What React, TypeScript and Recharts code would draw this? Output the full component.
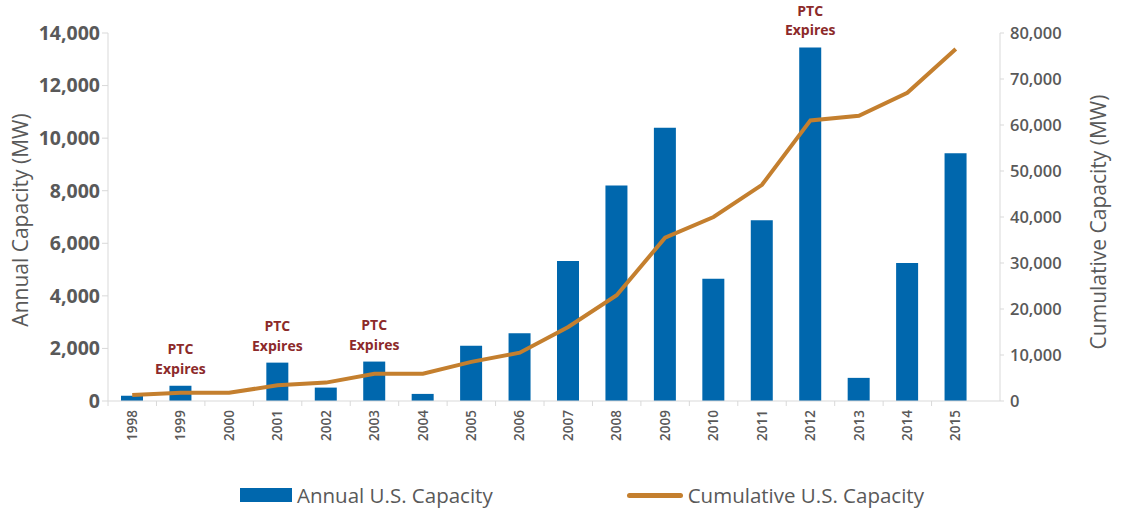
import {
  ComposedChart,
  Bar,
  Line,
  XAxis,
  YAxis,
  Legend,
  LabelList,
  Label,
} from "recharts";

const YEARS = [
  "1998", "1999", "2000", "2001", "2002", "2003", "2004", "2005", "2006",
  "2007", "2008", "2009", "2010", "2011", "2012", "2013", "2014", "2015",
];
const ANNUAL = [
  200, 580, 0, 1460, 510, 1500, 270, 2100, 2580,
  5330, 8200, 10400, 4650, 6880, 13450, 880, 5250, 9430,
];
const CUMULATIVE = [
  1300, 1800, 1800, 3400, 4000, 5900, 5950, 8500, 10500,
  16100, 23000, 35500, 40000, 47000, 61000, 62000, 67000, 76500,
];
const NOTES = ["", "PTC Expires", "", "PTC Expires", "", "PTC Expires", "", "", "", "", "", "", "", "", "PTC Expires", "", "", ""];
const LEFT_TICKS = [0, 2000, 4000, 6000, 8000, 10000, 12000, 14000];
const RIGHT_TICKS = [0, 10000, 20000, 30000, 40000, 50000, 60000, 70000, 80000];

const BLUE = "#0067ad";
const GOLD = "#c47f2e";
const GREY = "#595959";
const AXIS = "#d9d9d9";
const NOTE = "#8c2a2a";
const FONT = "'Open Sans', sans-serif";

const data = YEARS.map((year, i) => ({
  year,
  annual: ANNUAL[i],
  cumulative: CUMULATIVE[i],
  note: NOTES[i],
}));

const fmt = (v: number) => v.toLocaleString("en-US");

function YearTick({ x, y, payload }: any) {
  return (
    <g>
      <line x1={x - 24.2} x2={x - 24.2} y1={y - 9} y2={y - 4} stroke={AXIS} />
      <text
        x={x}
        y={y}
        transform={`rotate(-90, ${x}, ${y})`}
        textAnchor="end"
        dy="0.35em"
        fill={GREY}
        fontSize={13.5}
        fontWeight={600}
        fontFamily={FONT}
      >
        {payload.value}
      </text>
    </g>
  );
}

function NoteLabel({ x, y, width, value }: any) {
  if (!value) return null;
  const [a, b] = String(value).split(" ");
  const cx = x + width / 2;
  const style = { fill: NOTE, fontSize: 14, fontWeight: 700, fontFamily: FONT };
  return (
    <g>
      <text x={cx} y={y - 31.5} textAnchor="middle" {...style}>{a}</text>
      <text x={cx} y={y - 12} textAnchor="middle" {...style}>{b}</text>
    </g>
  );
}

function LegendBox() {
  return (
    <div
      style={{
        height: 40,
        display: "flex",
        alignItems: "center",
        paddingTop: 10,
        boxSizing: "border-box",
        fontFamily: FONT,
        fontSize: 20.5,
        color: GREY,
      }}
    >
      <div style={{ display: "flex", alignItems: "center", marginLeft: 240 }}>
        <span style={{ width: 52, height: 14, background: BLUE, marginRight: 5 }} />
        <span>Annual U.S. Capacity</span>
      </div>
      <div style={{ display: "flex", alignItems: "center", marginLeft: 134 }}>
        <span style={{ width: 56, height: 5, borderRadius: 3, background: GOLD, marginRight: 5 }} />
        <span>Cumulative U.S. Capacity</span>
      </div>
    </div>
  );
}

export default function App() {
  return (
    <div style={{ position: "absolute", left: 0, top: 0, background: "#fff" }}>
      <ComposedChart
        width={1125}
        height={510}
        data={data}
        margin={{ top: 33, right: 0, bottom: 0, left: 0 }}
      >
        <XAxis
          dataKey="year"
          height={69}
          padding={{ left: 0, right: 20 }}
          axisLine={{ stroke: AXIS }}
          tickLine={false}
          tickSize={5}
          tickMargin={4}
          interval={0}
          tick={<YearTick />}
        />
        <YAxis
          yAxisId="left"
          width={108}
          domain={[0, 14000]}
          ticks={LEFT_TICKS}
          tickFormatter={fmt}
          axisLine={{ stroke: AXIS }}
          tickLine={{ stroke: AXIS }}
          tickSize={6}
          tickMargin={2}
          tick={{ fill: GREY, fontSize: 19.5, fontWeight: 700, fontFamily: FONT }}
        >
          <Label
            content={() => (
              <text
                x={22}
                y={220}
                transform="rotate(-90, 22, 220)"
                textAnchor="middle"
                dominantBaseline="middle"
                fill={GREY}
                fontSize={21}
                fontFamily={FONT}
              >
                Annual Capacity (MW)
              </text>
            )}
          />
        </YAxis>
        <YAxis
          yAxisId="right"
          orientation="right"
          width={125}
          domain={[0, 80000]}
          ticks={RIGHT_TICKS}
          tickFormatter={fmt}
          axisLine={{ stroke: AXIS }}
          tickLine={{ stroke: AXIS }}
          tickSize={4}
          tickMargin={6}
          tick={{ fill: GREY, fontSize: 16.5, fontWeight: 600, fontFamily: FONT }}
        >
          <Label
            content={() => (
              <text
                x={1100}
                y={222}
                transform="rotate(-90, 1100, 222)"
                textAnchor="middle"
                dominantBaseline="middle"
                fill={GREY}
                fontSize={21}
                fontFamily={FONT}
              >
                Cumulative Capacity (MW)
              </text>
            )}
          />
        </YAxis>
        <Legend verticalAlign="bottom" content={<LegendBox />} />
        <Bar
          yAxisId="left"
          dataKey="annual"
          name="Annual U.S. Capacity"
          fill={BLUE}
          barSize={22}
          isAnimationActive={false}
        >
          <LabelList dataKey="note" content={<NoteLabel />} />
        </Bar>
        <Line
          yAxisId="right"
          type="linear"
          dataKey="cumulative"
          name="Cumulative U.S. Capacity"
          stroke={GOLD}
          strokeWidth={4}
          dot={false}
          activeDot={false}
          isAnimationActive={false}
        />
      </ComposedChart>
    </div>
  );
}
